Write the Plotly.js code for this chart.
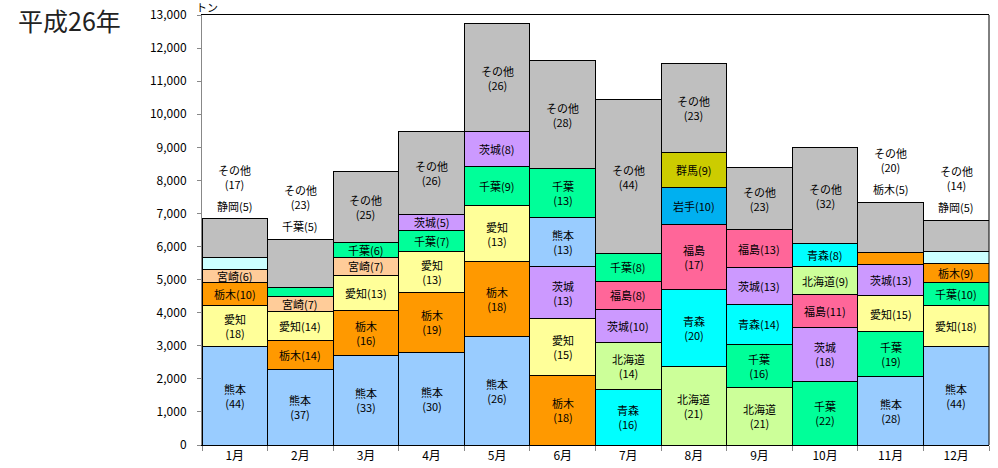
<!DOCTYPE html>
<html><head><meta charset="utf-8">
<script src="https://cdn.plot.ly/plotly-3.0.1.min.js"></script>
<style>html,body{margin:0;padding:0;background:#fff}</style>
</head><body><div id="chart" style="width:998px;height:468px"></div>
<script>
const months = ['1月','2月','3月','4月','5月','6月','7月','8月','9月','10月','11月','12月'];

// Stack layers, bottom to top (tons)
const layer1Names  = ['熊本','熊本','熊本','熊本','熊本','栃木','青森','北海道','北海道','千葉','熊本','熊本'];
const layer1Values = [2985, 2289, 2701, 2791, 3276, 2108, 1684, 2380, 1745, 1926, 2056, 2985];
const layer1Labels = ['熊本\n(44)','熊本\n(37)','熊本\n(33)','熊本\n(30)','熊本\n(26)','栃木\n(18)','青森\n(16)','北海道\n(21)','北海道\n(21)','千葉\n(22)','熊本\n(28)','熊本\n(44)'];

const layer2Names  = ['愛知','栃木','栃木','栃木','栃木','愛知','北海道','青森','千葉','茨城','千葉','愛知'];
const layer2Values = [1239, 877, 1351, 1826, 2258, 1723, 1400, 2307, 1300, 1633, 1370, 1227];
const layer2Labels = ['愛知\n(18)','栃木(14)','栃木\n(16)','栃木\n(19)','栃木\n(18)','愛知\n(15)','北海道\n(14)','青森\n(20)','千葉\n(16)','茨城\n(18)','千葉\n(19)','愛知(18)'];

const layer3Names  = ['栃木','愛知','愛知','愛知','愛知','茨城','茨城','福島','青森','福島','愛知','千葉'];
const layer3Values = [675, 865, 1068, 1240, 1703, 1552, 1007, 1986, 1198, 998, 1089, 708];
const layer3Labels = ['栃木(10)','愛知(14)','愛知(13)','愛知\n(13)','愛知\n(13)','茨城\n(13)','茨城(10)','福島\n(17)','青森(14)','福島(11)','愛知(15)','千葉(10)'];

const layer4Names  = ['宮崎','宮崎','宮崎','千葉','千葉','熊本','福島','岩手','茨城','北海道','茨城','栃木'];
const layer4Values = [414, 450, 556, 633, 1191, 1481, 859, 1119, 1131, 826, 949, 574];
const layer4Labels = ['宮崎(6)','宮崎(7)','宮崎(7)','千葉(7)','千葉(9)','熊本\n(13)','福島(8)','岩手(10)','茨城(13)','北海道(9)','茨城(13)','栃木(9)'];

const layer5Names  = ['静岡','千葉','千葉','茨城','茨城','千葉','千葉','群馬','福島','青森','栃木','静岡'];
const layer5Values = [342, 295, 454, 474, 1037, 1482, 847, 1059, 1127, 704, 363, 342];
const layer5Labels = ['静岡(5)','千葉(5)','千葉(6)','茨城(5)','茨城(8)','千葉\n(13)','千葉(8)','群馬(9)','福島(13)','青森(8)','栃木(5)','静岡(5)'];

const layer6Names  = ['その他','その他','その他','その他','その他','その他','その他','その他','その他','その他','その他','その他'];
const layer6Values = [1180, 1442, 2125, 2501, 3275, 3287, 4635, 2680, 1875, 2903, 1512, 959];
const layer6Labels = ['その他\n(17)','その他\n(23)','その他\n(25)','その他\n(26)','その他\n(26)','その他\n(28)','その他\n(44)','その他\n(23)','その他\n(23)','その他\n(32)','その他\n(20)','その他\n(14)'];

const colors = {
  '熊本':'#99CCFF','愛知':'#FFFF99','栃木':'#FF9900','宮崎':'#FFCC99','静岡':'#CCFFFF',
  '千葉':'#00FF99','茨城':'#CC99FF','福島':'#FF6699','青森':'#00FFFF','北海道':'#CCFF99',
  '岩手':'#00B0F0','群馬':'#CCCC00','その他':'#BFBFBF'
};

const layers = [
  {names:layer1Names, values:layer1Values, labels:layer1Labels},
  {names:layer2Names, values:layer2Values, labels:layer2Labels},
  {names:layer3Names, values:layer3Values, labels:layer3Labels},
  {names:layer4Names, values:layer4Values, labels:layer4Labels},
  {names:layer5Names, values:layer5Values, labels:layer5Labels},
  {names:layer6Names, values:layer6Values, labels:layer6Labels}
];

const traces = layers.map(L => ({
  type:'bar', x:months, y:L.values,
  marker:{color:L.names.map(n => colors[n]), line:{color:'#000', width:1}},
  hoverinfo:'skip', showlegend:false
}));

const labelFont = {family:'Noto Sans CJK JP, sans-serif', size:11, color:'#000'};
const SMALL = 400;
const annotations = [];
const base = months.map(() => 0);
const outsideSmall = months.map(() => null);
const last = layers.length - 1;
const outsideMonth = months.map((m, i) => layers.slice(0, last).some(L => L.values[i] < SMALL));

layers.forEach((L, li) => {
  months.forEach((m, i) => {
    const v = L.values[i];
    const txt = L.labels[i].replace('\n', '<br>');
    if (outsideMonth[i] && (v < SMALL || li === last)) {
      if (li !== last) outsideSmall[i] = txt;
    } else {
      annotations.push({x:m, y:base[i] + v / 2, xref:'x', yref:'y', text:txt,
        showarrow:false, font:labelFont, xanchor:'center', yanchor:'middle'});
    }
    base[i] += v;
  });
});

months.forEach((m, i) => {
  if (!outsideMonth[i]) return;
  annotations.push({x:m, y:base[i], xref:'x', yref:'y', text:outsideSmall[i], showarrow:false,
    font:labelFont, xanchor:'center', yanchor:'middle', yshift:13});
  annotations.push({x:m, y:base[i], xref:'x', yref:'y', text:layers[last].labels[i].replace('\n','<br>'),
    showarrow:false, font:labelFont, xanchor:'center', yanchor:'middle', yshift:42});
});

annotations.push({xref:'paper', yref:'paper', x:0.006, y:1, yshift:8, text:'トン', showarrow:false,
  font:labelFont, xanchor:'center', yanchor:'middle'});

const layout = {
  width:998, height:468,
  margin:{l:202, r:9, t:15, b:23, pad:0},
  barmode:'stack', bargap:0,
  paper_bgcolor:'#fff', plot_bgcolor:'#fff',
  font:{family:'Noto Sans CJK JP, sans-serif', size:11, color:'#000'},
  title:{text:'平成26年', x:18/998, xanchor:'left', xref:'container', y:1 - 22/468, yanchor:'middle', yref:'container',
    font:{family:'Noto Sans CJK JP, sans-serif', size:25, color:'#222'}},
  xaxis:{type:'category', showline:true, linecolor:'#000', linewidth:1, mirror:true,
    ticks:'outside', tickson:'boundaries', ticklen:5, tickcolor:'#888', tickfont:{size:12},
    showgrid:false, fixedrange:true},
  yaxis:{range:[0,13000], dtick:1000, tickformat:',d', showline:true, linecolor:'#888', linewidth:1,
    ticks:'outside', ticklen:4, tickcolor:'#888', tickfont:{size:12}, showgrid:false, zeroline:false,
    ticklabelstandoff:8, fixedrange:true},
  shapes:[{type:'line', xref:'paper', yref:'paper', x0:1, x1:1, y0:0, y1:1, line:{color:'#000', width:1}}],
  annotations:annotations
};

Plotly.newPlot('chart', traces, layout, {staticPlot:true, displayModeBar:false});
</script>
</body></html>
